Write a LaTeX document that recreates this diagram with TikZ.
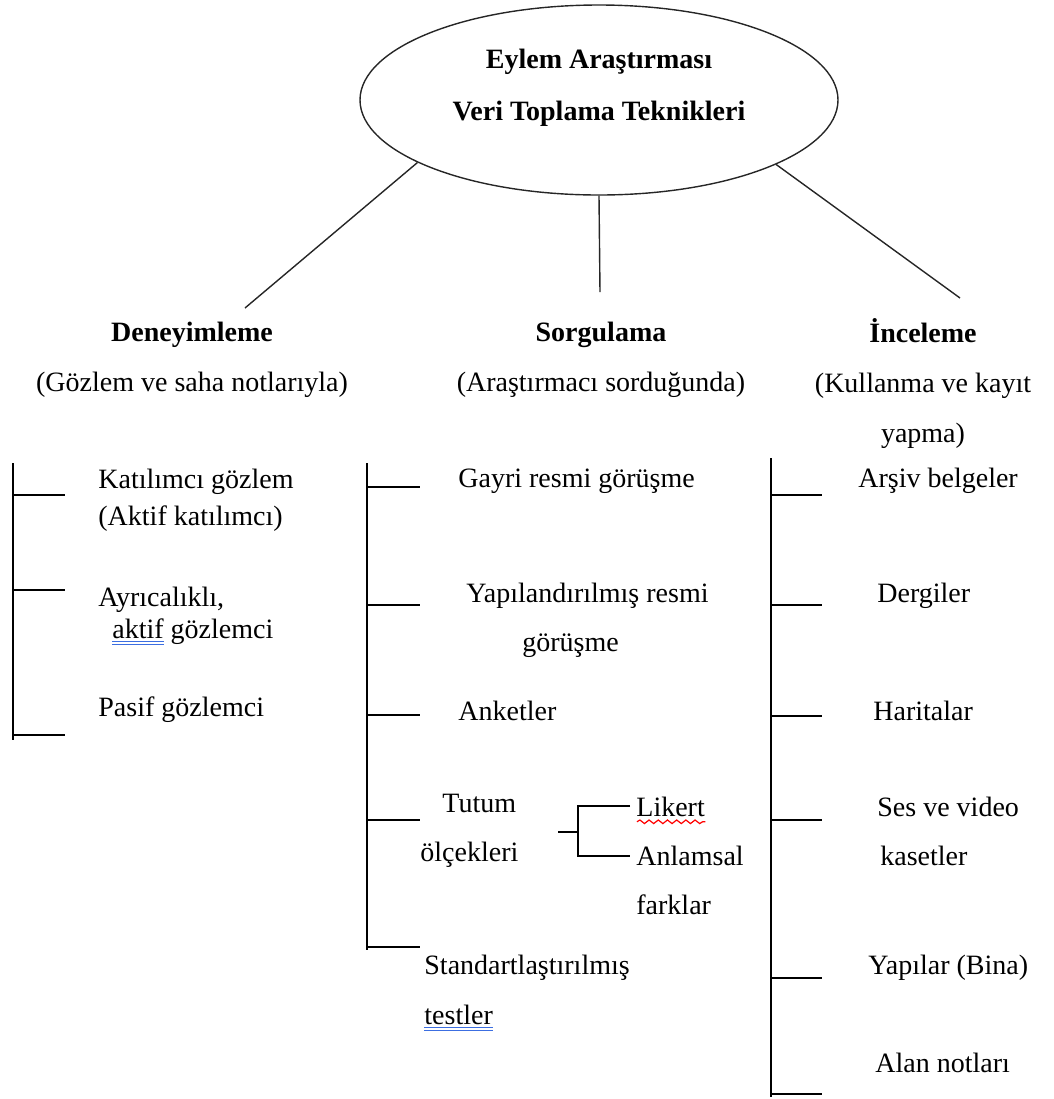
\documentclass[tikz,border=0pt]{standalone}
\usepackage{fontspec}
\setmainfont{Liberation Serif}
\usetikzlibrary{positioning,shapes.geometric,decorations.pathmorphing}

\definecolor{ulblue}{RGB}{60,110,225}
\newsavebox{\ulbox}
\newcommand{\blueul}[1]{\sbox{\ulbox}{#1}\rlap{\usebox{\ulbox}}{\color{ulblue}\rule[-2pt]{\wd\ulbox}{0.6pt}\llap{\rule[-3.5pt]{\wd\ulbox}{0.6pt}}}}
\newcommand{\redwave}[1]{\sbox{\ulbox}{#1}\rlap{\usebox{\ulbox}}\tikz[x=1pt,y=1pt,baseline=0pt]\draw[red,line width=0.6pt,decorate,decoration={snake,amplitude=0.9pt,segment length=4.6pt}] (0,-2.6) -- (\wd\ulbox,-2.6);}

\begin{document}
\begin{tikzpicture}[x=0.5pt, y=-0.5pt,
    rootnode/.style={ellipse, draw=black!85, line width=0.7pt, minimum width=239pt, minimum height=95pt, inner sep=0pt},
    titlenode/.style={font=\fontsize{14pt}{26pt}\selectfont\bfseries, align=center, inner sep=0pt},
    headnode/.style={font=\fontsize{14pt}{25pt}\selectfont, align=center, inner sep=0pt},
    itemnode/.style={font=\fontsize{14pt}{24.5pt}\selectfont, align=left, anchor=west, inner sep=0pt},
    tightnode/.style={itemnode, font=\fontsize{14pt}{18.5pt}\selectfont},
    spoke/.style={draw=black!85, line width=0.7pt},
    branch/.style={draw=black, line width=0.8pt}
    ]
    \useasboundingbox (0,0) rectangle (1054,1099);

        %Nodes
        \node[rootnode] (root) at (599,100) {};
        \node[titlenode, yshift=6pt] (title) at (root.center)
            {Eylem Araştırması\\Veri Toplama Teknikleri};

        \node[headnode] (deney)  at (192,360) {\textbf{Deneyimleme}\\(Gözlem ve saha notlarıyla)};
        \node[headnode] (sorgu)  at (601,360) {\textbf{Sorgulama}\\(Araştırmacı sorduğunda)};
        \node[headnode] (incele) at (923,384) {\textbf{İnceleme}\\(Kullanma ve kayıt\\yapma)};

        % deneyimleme
        \node[tightnode] (d1) at (98,500) {Katılımcı gözlem\\(Aktif katılımcı)};
        \node[tightnode, font=\fontsize{14pt}{16pt}\selectfont]
            (d2) at (98,616) {Ayrıcalıklı,\\\hspace*{7pt}\blueul{aktif} gözlemci};
        \node[itemnode] (d3) at (98,710) {Pasif gözlemci};

        % sorgulama
        \node[itemnode] (s1) at (458,481) {Gayri resmi görüşme};
        \node[itemnode] (s2) at (466,620) {Yapılandırılmış resmi\\\hspace*{28pt}görüşme};
        \node[itemnode] (s3) at (458,711) {Anketler};
        \node[itemnode] (s4) at (420,831) {\hspace*{11pt}Tutum\\ölçekleri};
        \node[itemnode] (l1) at (636,856) {\redwave{Likert}\\Anlamsal\\farklar};
        \node[itemnode, font=\fontsize{14pt}{25pt}\selectfont]
            (s5) at (424,993) {Standartlaştırılmış\\\blueul{testler}};

        % inceleme
        \node[itemnode] (i1) at (858,481) {Arşiv belgeler};
        \node[itemnode] (i2) at (877,596) {Dergiler};
        \node[itemnode] (i3) at (873,711) {Haritalar};
        \node[itemnode] (i4) at (877,831) {Ses ve video\\\hspace*{1.5pt}kasetler};
        \node[itemnode] (i5) at (868,968) {Yapılar (Bina)};
        \node[itemnode] (i6) at (875,1063) {Alan notları};

        \coordinate (dtop) at (245,308);
        \coordinate (stop) at (600,292);
        \coordinate (itop) at (960,298);

        %Lines
        \draw[spoke] (root.199) -- (dtop);
        \draw[spoke] (root.south) -- (stop);
        \draw[spoke] (root.340) -- (itop);

        \draw[branch] (13,463) -- (13,740);
        \foreach \y in {495,590,735}
            \draw[branch] (13,\y) -- (65,\y);

        \draw[branch] (367,463) -- (367,950);
        \foreach \y in {487,605,715,820,947}
            \draw[branch] (367,\y) -- (420,\y);

        \draw[branch] (771,458) -- (771,1097);
        \foreach \y in {495,605,716,820,978,1094}
            \draw[branch] (771,\y) -- (822,\y);

        \draw[branch] (558,832) -- (578,832);
        \draw[branch] (630,806) -| (578,856) -- (630,856);
    \end{tikzpicture}
\end{document}
